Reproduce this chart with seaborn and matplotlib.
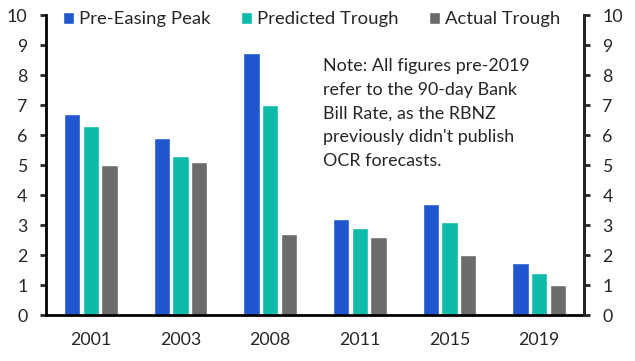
import matplotlib
matplotlib.use("Agg")
import matplotlib.pyplot as plt
import seaborn as sns
import pandas as pd
import numpy as np

years = ["2001", "2003", "2008", "2011", "2015", "2019"]
series = ["Pre-Easing Peak", "Predicted Trough", "Actual Trough"]
peak = [6.7, 5.9, 8.75, 3.2, 3.7, 1.75]
predicted = [6.3, 5.3, 7.0, 2.9, 3.1, 1.4]
actual = [5.0, 5.1, 2.7, 2.6, 2.0, 1.0]
colors = ["#2157CE", "#0EBAAA", "#6B6B6B"]
yticks = list(range(0, 11))

sns.set_style("white")
plt.rcParams['font.family'] = ['Lato', 'DejaVu Sans']

df = pd.DataFrame({
    "year": years * 3,
    "series": [series[0]] * 6 + [series[1]] * 6 + [series[2]] * 6,
    "value": peak + predicted + actual,
})

fig = plt.figure(figsize=(6.35, 3.61), dpi=100)
ax = fig.add_axes([46 / 635, 46 / 361, 538 / 635, 300 / 361])
sns.barplot(data=df, x="year", y="value", hue="series", palette=colors,
            width=0.624, gap=0.14, ax=ax, legend=True, saturation=1)

ax.set_ylim(0, 10)
ax.set_xlim(-0.5, 5.5)
ax.set_yticks(yticks)
ax.set_xlabel("")
ax.set_ylabel("")
ax.set_xticks(np.arange(6))
ax.set_xticklabels(years)
ax.set_xticks(np.arange(-0.5, 6.0, 1.0), minor=True)
ax.tick_params(axis="x", which="major", length=0, labelsize=12.8, pad=12)
ax.tick_params(axis="x", which="minor", length=4.5, width=2, direction="out")
ax.tick_params(axis="y", length=4.3, width=2, direction="out", labelsize=12.8, pad=9)

for s in ["left", "bottom", "right"]:
    ax.spines[s].set_linewidth(2)
    ax.spines[s].set_color("black")
ax.spines["top"].set_visible(False)

ax2 = ax.twinx()
ax2.set_ylim(0, 10)
ax2.set_yticks(yticks)
ax2.tick_params(axis="y", length=4.3, width=2, direction="out", labelsize=12.8, pad=9)
for s in ["top", "left", "bottom"]:
    ax2.spines[s].set_visible(False)
ax2.spines["right"].set_linewidth(2)

leg = ax.legend(loc="upper left", bbox_to_anchor=(0.0, 1.068), ncol=3, frameon=False,
                handlelength=0.62, handleheight=0.62, handletextpad=0.28,
                columnspacing=1.62, fontsize=13.3)

ax.text(0.515, 0.858, "Note: All figures pre-2019\nrefer to the 90-day Bank\nBill Rate, as the RBNZ\npreviously didn't publish\nOCR forecasts.",
        transform=ax.transAxes, fontsize=12.9, va="top", ha="left", linespacing=1.61)

fig.savefig("out.png", dpi=100)
